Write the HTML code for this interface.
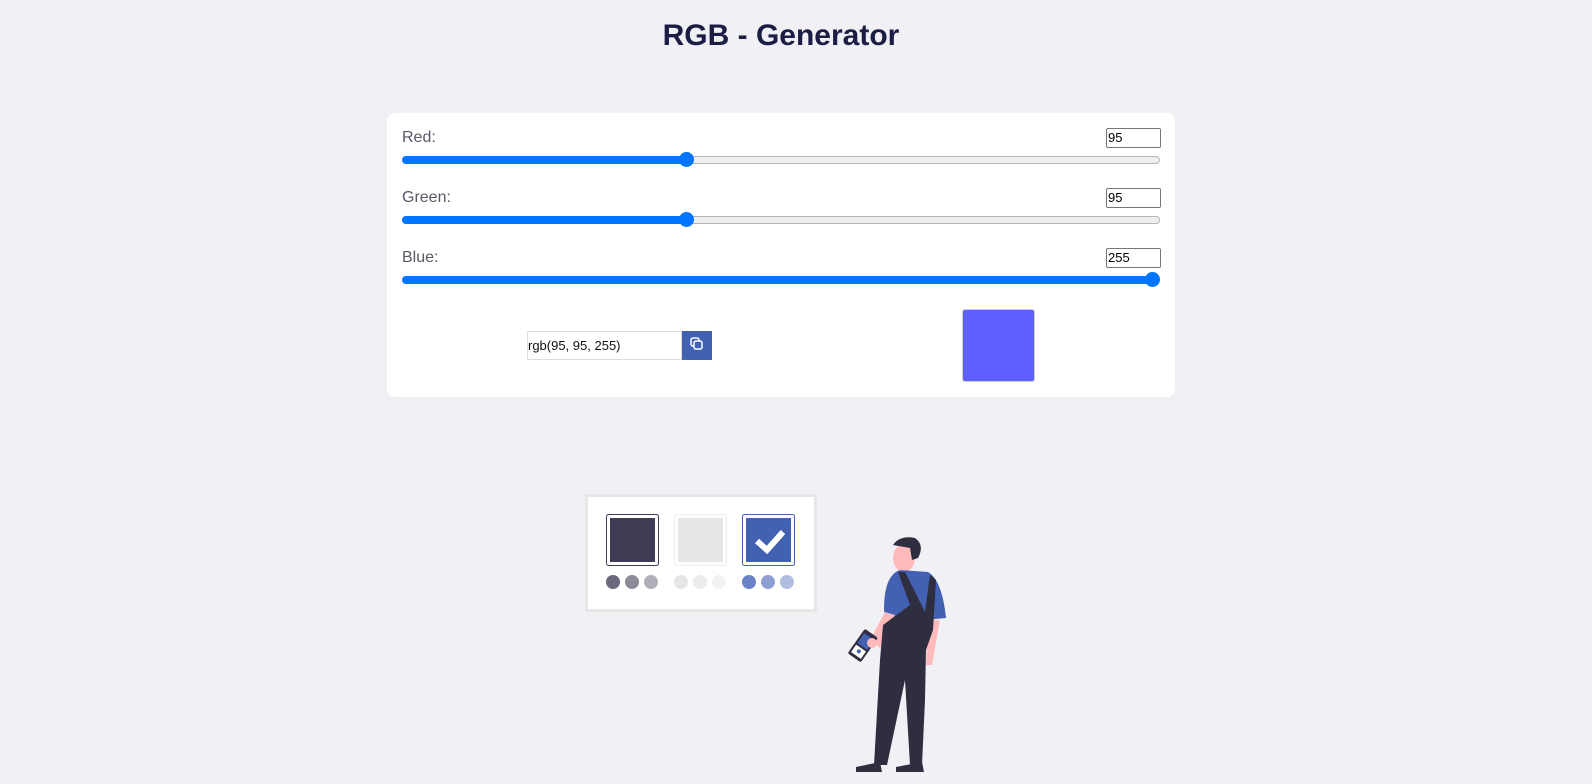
<!DOCTYPE html>
<html><head><style>
body{margin:0;width:1592px;height:784px;background:#f0f0f5;position:relative;overflow:hidden;font-family:"Liberation Sans",sans-serif}
.a{position:absolute}
h1{position:absolute;left:0;width:1562px;top:19px;margin:0;text-align:center;font-size:30px;font-weight:bold;color:#1b1d45;letter-spacing:0}
.card{left:387px;top:113px;width:788px;height:284px;background:#fff;border-radius:8px}
.lbl{left:402px;font-size:16px;color:#555a66}
.num{left:1106px;width:52px;height:18px;border:1px solid #767676;border-radius:2px;font-size:13px;line-height:18px;padding-left:1px;box-sizing:content-box;color:#000;background:#fff}
.trk{left:402px;width:756px;height:6px;border:1px solid #b5b5b5;border-radius:4px;background:#efefef}
.fill{height:8px;background:#0075ff;border-radius:4px;left:402px}
.th{width:15px;height:15px;border-radius:50%;background:#0075ff}
</style></head><body>
<h1>RGB - Generator</h1>
<div class="a card"></div>

<div class="a lbl" style="top:129px">Red:</div>
<div class="a num" style="top:128px">95</div>
<div class="a trk" style="top:156px"></div>
<div class="a fill" style="top:156px;width:286px"></div>
<div class="a th" style="left:679px;top:152px"></div>

<div class="a lbl" style="top:189px">Green:</div>
<div class="a num" style="top:188px">95</div>
<div class="a trk" style="top:216px"></div>
<div class="a fill" style="top:216px;width:286px"></div>
<div class="a th" style="left:679px;top:212px"></div>

<div class="a lbl" style="top:249px">Blue:</div>
<div class="a num" style="top:248px">255</div>
<div class="a trk" style="top:276px"></div>
<div class="a fill" style="top:276px;width:756px"></div>
<div class="a th" style="left:1145px;top:272px"></div>

<div class="a" style="left:527px;top:331px;width:153px;height:27px;border:1px solid #ddd;font-size:13px;line-height:27px;color:#111">rgb(95, 95, 255)</div>
<div class="a" style="left:682px;top:331px;width:30px;height:29px;background:#4361b2">
<svg width="30" height="29"><rect x="9" y="7" width="8" height="8" rx="2" fill="none" stroke="#fff" stroke-width="1.5"/><rect x="12" y="10" width="8" height="8" rx="2" fill="#4361b2" stroke="#fff" stroke-width="1.5"/></svg></div>
<div class="a" style="left:962px;top:309px;width:71px;height:71px;background:#5f5fff;border:1px solid #ccc;border-radius:3px"></div>

<svg class="a" style="left:0;top:0" width="1592" height="784">
<rect x="586.5" y="495.5" width="229" height="115" fill="#fff" stroke="#e6e6e6" stroke-width="3"/>
<rect x="606.5" y="514.5" width="52" height="51" rx="2" fill="#fff" stroke="#3f3d56"/>
<rect x="610" y="518" width="45" height="44" fill="#3f3d56"/>
<rect x="674.5" y="514.5" width="52" height="51" rx="2" fill="#fff" stroke="#eee"/>
<rect x="678" y="518" width="45" height="44" fill="#e6e6e6"/>
<rect x="742.5" y="514.5" width="52" height="51" rx="2" fill="#fff" stroke="#4361b2"/>
<rect x="746" y="518" width="45" height="44" fill="#4361b2"/>
<path d="M757 541 L767 550 L783 532" fill="none" stroke="#fff" stroke-width="6"/>
<circle cx="613" cy="582" r="7" fill="#6b6a7c"/><circle cx="632" cy="582" r="7" fill="#8c8b99"/><circle cx="651" cy="582" r="7" fill="#b0afba"/>
<circle cx="681" cy="582" r="7" fill="#e6e6e6"/><circle cx="700" cy="582" r="7" fill="#ececec"/><circle cx="719" cy="582" r="7" fill="#f2f2f2"/>
<circle cx="749" cy="582" r="7" fill="#6a83c6"/><circle cx="768" cy="582" r="7" fill="#8e9fd3"/><circle cx="787" cy="582" r="7" fill="#b1bee2"/>
<ellipse cx="904" cy="558" rx="11" ry="14" fill="#fbb"/>
<path d="M893 545 Q900 535 915 538 Q925 545 918 558 L912 560 L910 548 Z" fill="#2f2e41"/>
<path d="M900 570 L928 572 Q942 580 946 618 L925 620 L920 640 L890 640 L884 610 Q884 575 900 570Z" fill="#4361b2"/>
<path d="M870 640 L885 612 L895 615 L880 648 Z" fill="#fbb"/>
<path d="M928 620 L940 620 L932 665 L926 665 Z" fill="#fbb"/>
<path d="M898 572 L905 572 L925 612 L930 575 L936 580 L933 630 L926 650 L925 700 L922 765 L910 765 L905 680 L887 765 L874 765 L880 660 L883 625 L910 605 Z" fill="#2f2e41"/>
<path d="M856 767 L880 762 L882 772 L856 772 Z M896 767 L922 762 L924 772 L896 772Z" fill="#2f2e41"/>
<g transform="rotate(35 862 645)"><rect x="855" y="630" width="16" height="30" rx="2" fill="#2f2e41"/><rect x="857" y="634" width="12" height="12" fill="#4361b2"/><rect x="857" y="648" width="12" height="9" fill="#fff"/><circle cx="863" cy="652" r="2" fill="#4361b2"/></g>
<circle cx="872" cy="643" r="5" fill="#fbb"/>
</svg>
</body></html>
